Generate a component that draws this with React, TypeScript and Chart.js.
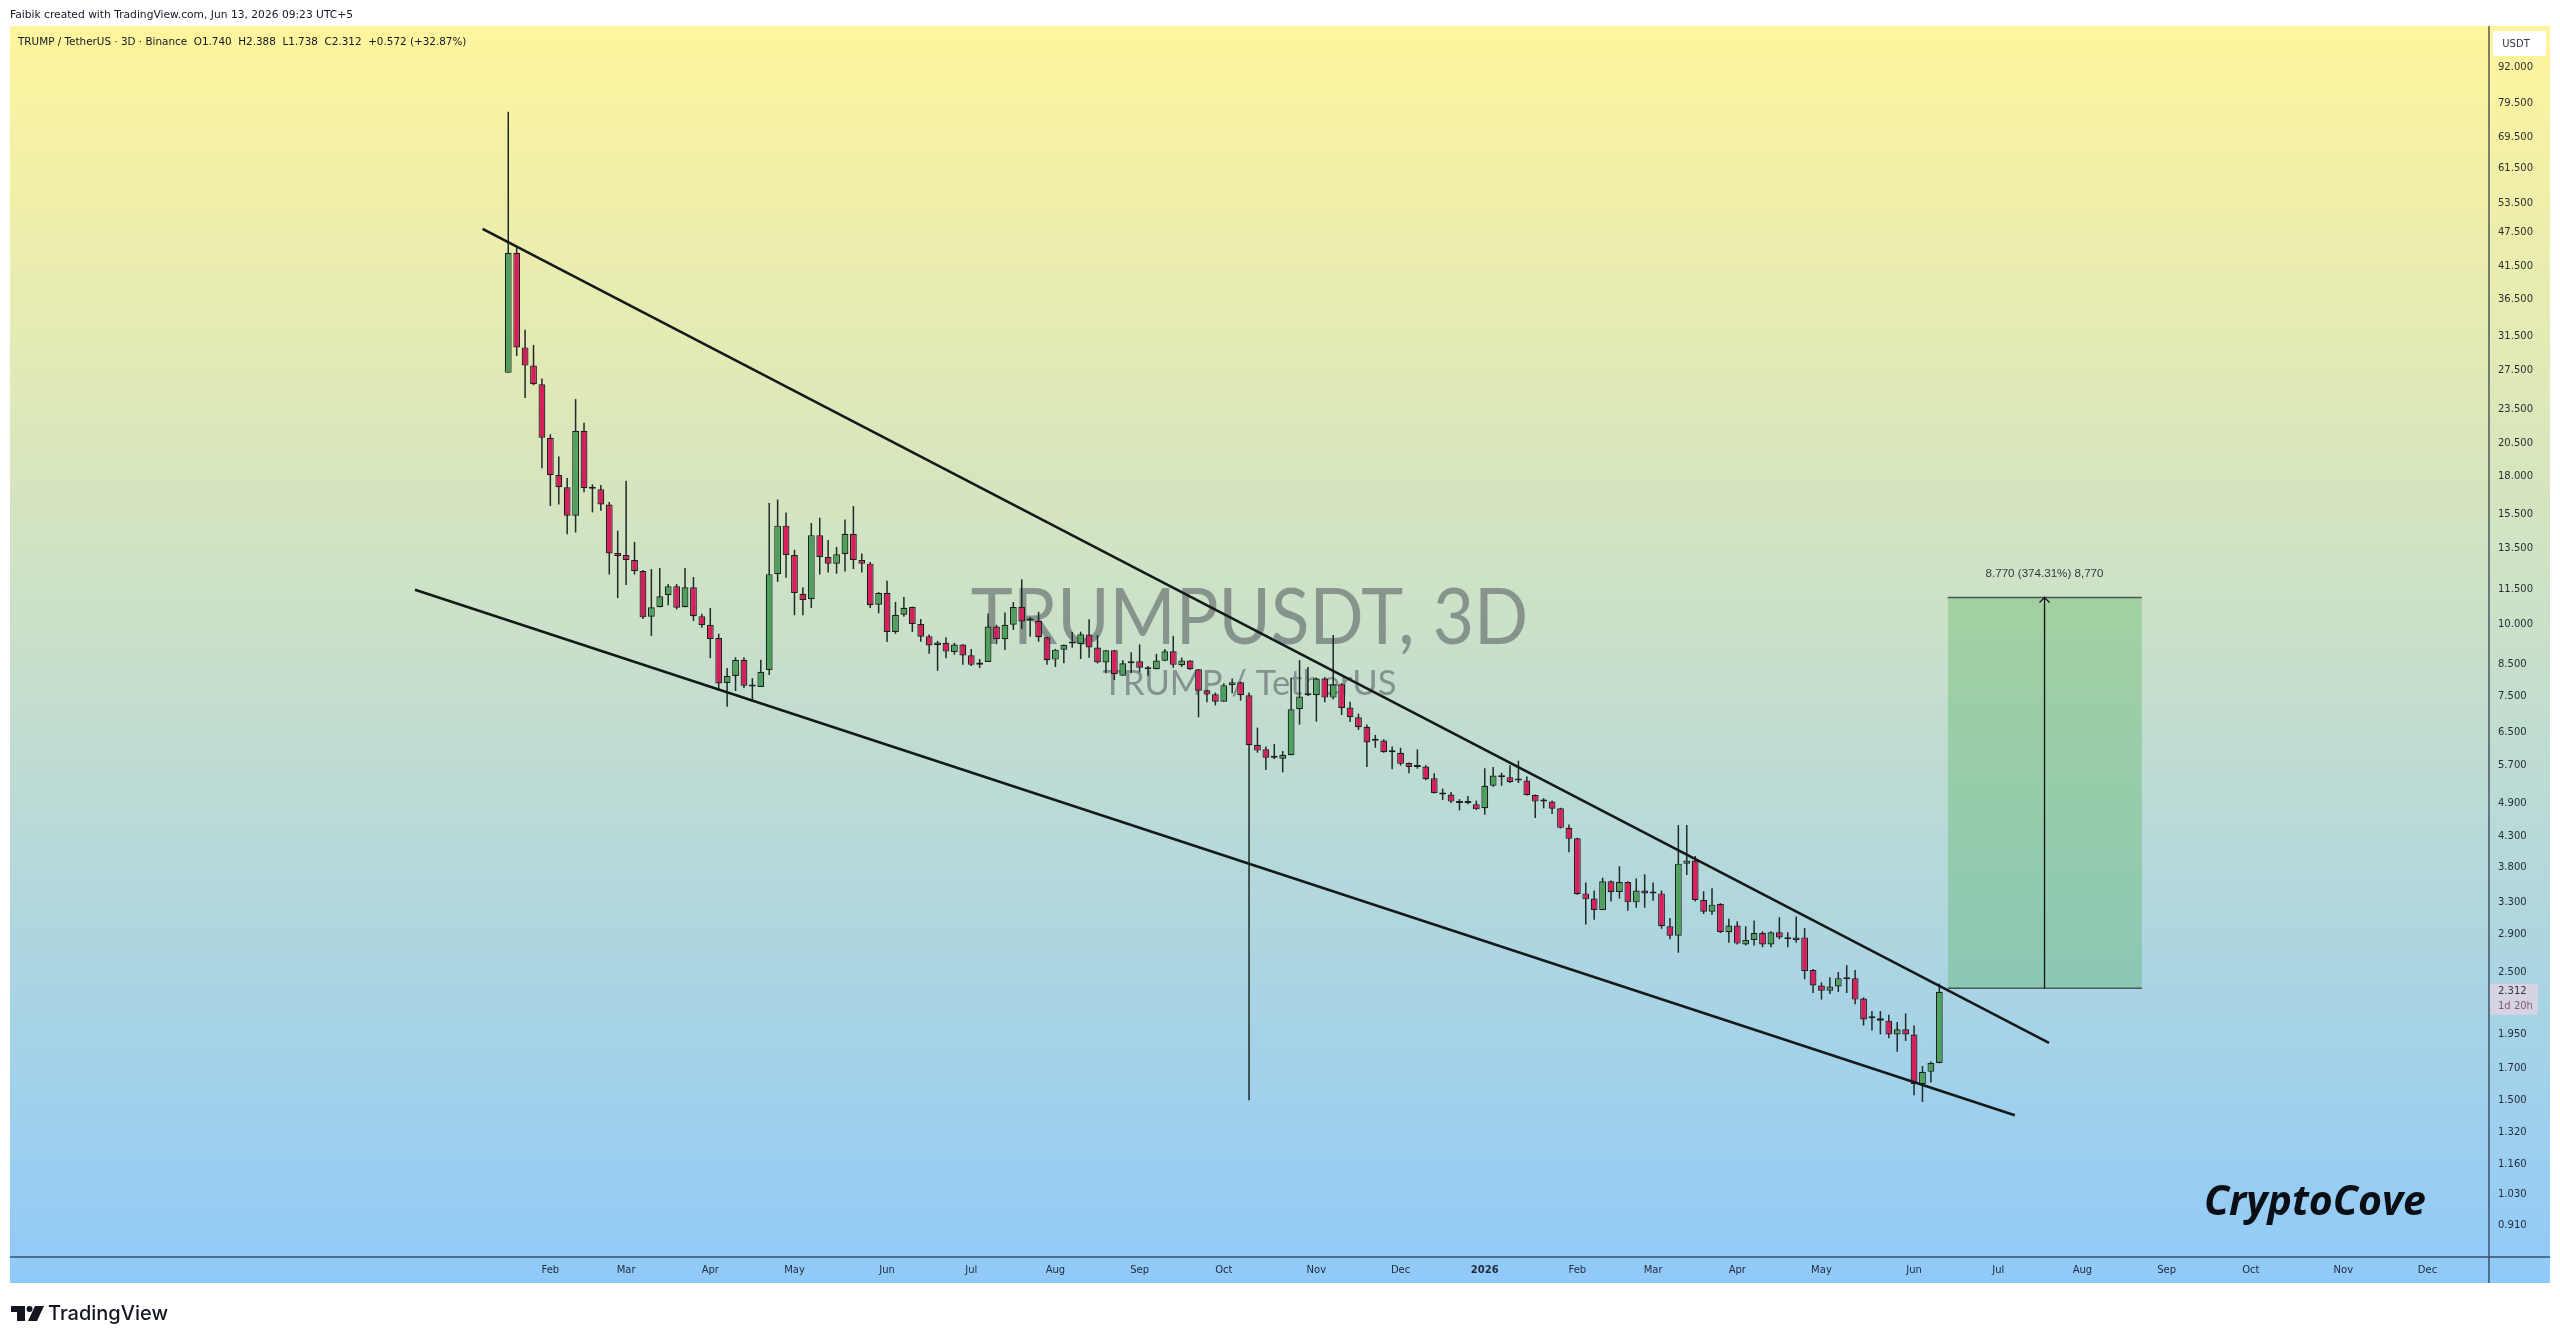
'use client'

/**
 * TRUMPUSDT 3D 캔들 차트 (Chart.js)
 * 캔들은 플로팅 바, 추세선과 목표 박스는 라인 데이터셋으로 그린다
 */

import { useEffect, useRef } from 'react'
import { Chart, registerables } from 'chart.js'

Chart.register(...registerables)

const opens = [
  27.2, 43.9, 30.1, 28.0, 26.0, 21.0, 18.1, 17.25, 15.4, 21.6,
  17.2, 17.1, 16.1, 13.27, 13.16, 12.9, 12.35, 10.3, 10.69, 11.22,
  11.63, 10.69, 11.58, 10.32, 9.96, 9.46, 7.91, 8.13, 8.67, 7.82,
  7.78, 8.33, 12.2, 14.8, 13.16, 11.28, 11.04, 14.25, 13.06, 12.72,
  13.22, 14.33, 12.9, 12.72, 10.8, 11.33, 9.69, 10.38, 10.7, 10.0,
  9.53, 9.19, 9.28, 8.95, 9.22, 8.83, 8.5, 8.6, 9.9, 9.41,
  9.97, 10.7, 10.16, 10.13, 9.49, 8.68, 9.03, 9.25, 9.24, 9.59,
  9.11, 8.58, 9.01, 8.14, 8.55, 8.62, 8.42, 8.35, 8.64, 8.97,
  8.49, 8.65, 8.35, 7.68, 7.56, 7.34, 7.84, 7.93, 7.53, 6.18,
  6.07, 5.87, 5.85, 5.93, 7.12, 7.53, 7.53, 8.05, 7.46, 7.87,
  7.17, 6.9, 6.64, 6.28, 6.29, 6.0, 5.99, 5.75, 5.66, 5.67,
  5.41, 5.11, 5.07, 4.94, 4.9, 4.88, 4.8, 5.25, 5.47, 5.43,
  5.36, 5.36, 5.06, 4.93, 4.93, 4.8, 4.44, 4.26, 3.42, 3.35,
  3.2, 3.59, 3.44, 3.58, 3.3, 3.46, 3.42, 3.42, 3.0, 2.89,
  3.85, 3.9, 3.33, 3.18, 3.28, 2.93, 3.01, 2.79, 2.84, 2.92,
  2.79, 2.93, 2.87, 2.84, 2.87, 2.52, 2.37, 2.32, 2.36, 2.44,
  2.44, 2.25, 2.08, 2.08, 2.06, 1.95, 1.99, 1.95, 1.6, 1.68, 1.74,
]

const highs = [
  77.0, 44.9, 32.3, 30.4, 26.6, 21.3, 19.5, 17.9, 24.5, 22.3,
  17.45, 17.4, 16.26, 14.5, 17.7, 13.87, 12.4, 12.45, 12.5, 11.73,
  11.73, 12.5, 12.06, 10.42, 10.66, 9.62, 8.39, 8.76, 8.76, 8.06,
  8.67, 16.2, 16.42, 15.6, 13.44, 11.58, 14.96, 15.28, 13.98, 13.6,
  15.17, 16.0, 13.25, 12.8, 11.36, 11.88, 10.92, 11.14, 10.72, 10.2,
  9.59, 9.35, 9.49, 9.28, 9.23, 9.05, 8.7, 10.43, 9.97, 10.47,
  10.92, 11.95, 10.28, 10.5, 9.51, 9.06, 9.22, 9.69, 9.7, 10.19,
  9.57, 9.02, 9.02, 8.66, 8.94, 9.22, 8.46, 8.88, 9.05, 9.54,
  8.75, 8.66, 8.36, 7.69, 7.61, 7.9, 8.05, 7.95, 7.61, 6.62,
  6.14, 6.2, 6.03, 8.07, 8.66, 8.43, 8.07, 8.1, 9.57, 7.9,
  7.34, 7.0, 6.7, 6.43, 6.32, 6.14, 6.11, 5.76, 6.07, 5.7,
  5.52, 5.19, 5.12, 4.98, 5.04, 4.95, 5.63, 5.66, 5.53, 5.7,
  5.8, 5.45, 5.07, 5.0, 4.95, 4.81, 4.5, 4.27, 3.57, 3.46,
  3.64, 3.6, 3.81, 3.59, 3.63, 3.69, 3.57, 3.46, 3.1, 4.49,
  4.49, 3.97, 3.45, 3.49, 3.29, 3.09, 3.06, 3.0, 3.07, 2.94,
  2.94, 3.11, 2.93, 3.12, 2.98, 2.53, 2.4, 2.45, 2.5, 2.57,
  2.52, 2.26, 2.14, 2.14, 2.11, 2.05, 2.12, 2.02, 1.72, 1.75, 2.388,
]

const lows = [
  27.2, 29.1, 24.6, 25.9, 18.6, 16.0, 16.1, 14.3, 14.4, 16.9,
  15.6, 15.7, 12.18, 11.09, 11.68, 12.18, 10.2, 9.54, 10.69, 10.78,
  10.6, 10.69, 10.12, 9.85, 8.73, 7.72, 7.19, 7.66, 7.75, 7.33,
  7.78, 8.16, 11.83, 12.03, 10.36, 10.36, 10.66, 12.18, 12.28, 12.22,
  12.33, 12.45, 12.28, 10.66, 10.44, 9.31, 9.62, 10.3, 9.69, 9.32,
  8.88, 8.3, 8.73, 8.85, 8.5, 8.46, 8.39, 8.6, 9.23, 9.02,
  9.77, 9.8, 9.51, 9.32, 8.5, 8.43, 8.55, 9.1, 8.7, 8.74,
  8.55, 8.22, 8.0, 8.14, 8.22, 8.25, 8.14, 8.35, 8.62, 8.4,
  8.43, 8.33, 6.9, 7.32, 7.23, 7.34, 7.59, 7.37, 1.5, 5.99,
  5.59, 5.84, 5.54, 5.93, 6.7, 7.51, 6.78, 7.32, 7.41, 6.96,
  6.77, 6.56, 5.66, 6.11, 5.99, 5.61, 5.69, 5.52, 5.62, 5.37,
  5.09, 4.96, 4.9, 4.76, 4.88, 4.77, 4.68, 5.23, 5.25, 5.31,
  5.31, 5.05, 4.62, 4.8, 4.69, 4.43, 4.03, 3.4, 3.02, 3.08,
  3.2, 3.31, 3.35, 3.19, 3.23, 3.23, 3.32, 2.97, 2.85, 2.7,
  3.68, 3.31, 3.15, 3.14, 2.92, 2.81, 2.79, 2.78, 2.78, 2.76,
  2.76, 2.85, 2.76, 2.81, 2.43, 2.3, 2.24, 2.29, 2.31, 2.3,
  2.2, 2.02, 1.98, 1.95, 1.92, 1.82, 1.9, 1.53, 1.49, 1.61, 1.738,
]

const closes = [
  43.9, 30.1, 28.0, 26.0, 21.0, 18.1, 17.25, 15.4, 21.6, 17.2,
  17.15, 16.1, 13.25, 13.1, 12.9, 12.35, 10.27, 10.69, 11.17, 11.63,
  10.67, 11.58, 10.32, 9.96, 9.42, 7.89, 8.13, 8.67, 7.82, 7.8,
  8.27, 12.2, 14.8, 13.16, 11.32, 11.0, 14.25, 13.06, 12.72, 13.2,
  14.33, 12.9, 12.72, 10.78, 11.32, 9.69, 10.38, 10.67, 10.0, 9.51,
  9.18, 9.29, 8.96, 9.22, 8.82, 8.5, 8.58, 9.9, 9.41, 9.97,
  10.7, 10.1, 10.14, 9.49, 8.66, 9.03, 9.2, 9.27, 9.6, 9.11,
  8.58, 9.01, 8.19, 8.55, 8.62, 8.4, 8.35, 8.65, 8.97, 8.5,
  8.65, 8.35, 7.67, 7.55, 7.34, 7.84, 7.93, 7.53, 6.17, 6.04,
  5.87, 5.88, 5.94, 7.12, 7.49, 7.55, 8.05, 7.46, 7.87, 7.16,
  6.9, 6.63, 6.24, 6.29, 6.0, 6.01, 5.73, 5.66, 5.67, 5.39,
  5.1, 5.07, 4.93, 4.9, 4.91, 4.78, 5.25, 5.47, 5.43, 5.33,
  5.37, 5.06, 4.93, 4.94, 4.79, 4.44, 4.25, 3.41, 3.34, 3.2,
  3.59, 3.44, 3.58, 3.3, 3.46, 3.42, 3.43, 3.0, 2.89, 3.85,
  3.9, 3.33, 3.18, 3.27, 2.93, 3.01, 2.8, 2.84, 2.92, 2.79,
  2.93, 2.87, 2.85, 2.87, 2.51, 2.37, 2.32, 2.36, 2.44, 2.43,
  2.24, 2.07, 2.09, 2.06, 1.95, 1.99, 1.95, 1.6, 1.68, 1.74, 2.312,
]

// 월 라벨은 해당 월 첫 봉의 인덱스
const monthIndexes = [5, 14, 24, 34, 45, 55, 65, 75, 85, 96, 106, 116, 127, 136, 146, 156, 167, 177, 187, 197, 207, 218, 228]
const monthLabels = ['Feb', 'Mar', 'Apr', 'May', 'Jun', 'Jul', 'Aug', 'Sep', 'Oct', 'Nov', 'Dec', '2026', 'Feb', 'Mar', 'Apr', 'May', 'Jun', 'Jul', 'Aug', 'Sep', 'Oct', 'Nov', 'Dec']

const priceTicks = [
  92, 79.5, 69.5, 61.5, 53.5, 47.5, 41.5, 36.5, 31.5, 27.5, 23.5, 20.5, 18, 15.5, 13.5, 11.5, 10, 8.5,
  7.5, 6.5, 5.7, 4.9, 4.3, 3.8, 3.3, 2.9, 2.5, 1.95, 1.7, 1.5, 1.32, 1.16, 1.03, 0.91,
]

const upperLineX = [-3.05, 183.03]
const upperLineY = [48.25, 1.885]
const lowerLineX = [-11.08, 178.97]
const lowerLineY = [11.46, 1.413]

const boxX = [171, 194.07]
const boxTop = 11.113
const boxBottom = 2.343
const arrowX = [182.5, 182.5, 181.9, 182.5, 183.1]
const arrowY = [2.343, 11.113, 10.9, 11.113, 10.9]

const UP = '#4ca25a'
const DOWN = '#d81e5b'
const DARK = '#131722'
const TEXT = 'rgba(19, 23, 34, 0.9)'
const FONT = '"DejaVu Sans"'

const pairs = (xs: number[], ys: number[]) => xs.map((x, i) => ({ x, y: ys[i] }))

const panelPlugin = {
  id: 'panel',
  beforeDraw(chart: any) {
    const { ctx, chartArea, width, height } = chart
    const top = chartArea.top
    const bottom = height - 60
    const grad = ctx.createLinearGradient(0, top, 0, bottom)
    grad.addColorStop(0, '#fff59d')
    grad.addColorStop(1, '#90caf9')
    ctx.save()
    ctx.fillStyle = grad
    ctx.fillRect(chartArea.left, top, width - 10 - chartArea.left, bottom - top)
    ctx.restore()
  },
  beforeDatasetsDraw(chart: any) {
    const { ctx, chartArea } = chart
    const cx = (chartArea.left + chartArea.right) / 2
    const cy = (chartArea.top + chartArea.bottom) / 2
    ctx.save()
    ctx.fillStyle = 'rgba(67, 70, 81, 0.5)'
    ctx.textAlign = 'center'
    ctx.textBaseline = 'alphabetic'
    ctx.font = '34.5px Lato'
    ctx.fillText('TRUMP / TetherUS', cx, cy + 53)
    // 원본 글꼴이 더 좁아서 가로만 줄인다
    ctx.translate(cx, cy + 2)
    ctx.scale(0.913, 1)
    ctx.font = '78px Lato'
    ctx.fillText('TRUMPUSDT, 3D', 0, 0)
    ctx.restore()
  },
  afterDraw(chart: any) {
    const { ctx, chartArea, width, height, scales } = chart
    const panelBottom = height - 60
    const panelRight = width - 10
    ctx.save()

    // 축 구분선
    ctx.strokeStyle = 'rgba(30, 40, 60, 0.75)'
    ctx.lineWidth = 1.5
    ctx.beginPath()
    ctx.moveTo(chartArea.left, chartArea.bottom)
    ctx.lineTo(panelRight, chartArea.bottom)
    ctx.moveTo(chartArea.right, chartArea.top)
    ctx.lineTo(chartArea.right, panelBottom)
    ctx.stroke()

    ctx.textBaseline = 'middle'
    ctx.textAlign = 'left'

    // 상단 텍스트
    ctx.fillStyle = DARK
    ctx.font = `10.7px ${FONT}`
    ctx.fillText('Faibik created with TradingView.com, Jun 13, 2026 09:23 UTC+5', 10, 15)
    ctx.font = `10.4px ${FONT}`
    ctx.fillText('TRUMP / TetherUS · 3D · Binance  O1.740  H2.388  L1.738  C2.312  +0.572 (+32.87%)', 18, 42)

    // USDT 배지
    ctx.font = `10px ${FONT}`
    ctx.fillStyle = '#ffffff'
    ctx.beginPath()
    ctx.roundRect(chartArea.right + 4, 31, 53, 25, 3)
    ctx.fill()
    ctx.fillStyle = '#333845'
    ctx.textAlign = 'center'
    ctx.fillText('USDT', chartArea.right + 27, 44)

    // 현재가 라벨
    const lastY = scales.y.getPixelForValue(closes[closes.length - 1])
    ctx.fillStyle = '#d6d4e2'
    ctx.fillRect(chartArea.right + 1, lastY - 8, 48, 31)
    ctx.textAlign = 'left'
    ctx.fillStyle = '#3a3440'
    ctx.fillText('2.312', chartArea.right + 9, lastY)
    ctx.fillStyle = '#7e5a6e'
    ctx.fillText('1d 20h', chartArea.right + 9, lastY + 15)

    // 목표 박스 라벨
    ctx.fillStyle = '#333845'
    ctx.textAlign = 'center'
    ctx.font = '11.6px "Liberation Sans"'
    ctx.fillText(
      '8.770 (374.31%) 8,770',
      scales.x.getPixelForValue(arrowX[1]),
      scales.y.getPixelForValue(boxTop) - 24,
    )

    // 워터마크
    ctx.fillStyle = '#0b0e14'
    ctx.textAlign = 'left'
    ctx.textBaseline = 'alphabetic'
    ctx.font = 'italic bold 41px "Open Sans"'
    ctx.fillText('CryptoCove', 2204, 1215)

    // TradingView 로고
    ctx.fillStyle = '#131722'
    ctx.fillRect(11, 1306, 14, 6)
    ctx.fillRect(17, 1312, 8, 9)
    ctx.beginPath()
    ctx.arc(29.5, 1309, 3, 0, Math.PI * 2)
    ctx.fill()
    ctx.beginPath()
    ctx.moveTo(35, 1306)
    ctx.lineTo(44, 1306)
    ctx.lineTo(37, 1321)
    ctx.lineTo(28, 1321)
    ctx.closePath()
    ctx.fill()
    ctx.font = '500 20px Inter'
    ctx.fillText('TradingView', 48, 1320)

    ctx.restore()
  },
}

export default function App() {
  const canvasRef = useRef<HTMLCanvasElement>(null)
  const chartRef = useRef<Chart | null>(null)

  useEffect(() => {
    document.body.style.margin = '0'
    if (!canvasRef.current) return
    const ctx = canvasRef.current.getContext('2d')
    if (!ctx) return

    const candleColors = closes.map((c, i) => (c >= opens[i] ? UP : DOWN))

    const config: any = {
      type: 'bar',
      data: {
        datasets: [
          {
            type: 'line',
            data: pairs(boxX, [boxTop, boxTop]),
            borderColor: 'rgba(55, 70, 65, 0.85)',
            borderWidth: 1.5,
            backgroundColor: 'rgba(76, 175, 80, 0.32)',
            fill: { value: boxBottom },
            pointRadius: 0,
            order: 6,
          },
          {
            type: 'line',
            data: pairs(boxX, [boxBottom, boxBottom]),
            borderColor: 'rgba(55, 70, 65, 0.85)',
            borderWidth: 1.5,
            pointRadius: 0,
            order: 5,
          },
          {
            data: opens.map((_, i) => ({ x: i, y: [lows[i], highs[i]] })),
            grouped: false,
            categoryPercentage: 1,
            barPercentage: 1.5 / 8.418,
            backgroundColor: '#1d2a26',
            borderWidth: 0,
            order: 4,
          },
          {
            data: opens.map((o, i) => ({ x: i, y: [o, closes[i]] })),
            grouped: false,
            categoryPercentage: 1,
            barPercentage: 6.8 / 8.418,
            minBarLength: 2,
            backgroundColor: candleColors,
            borderColor: '#1a1f1f',
            borderWidth: 1.2,
            borderSkipped: false,
            order: 3,
          },
          {
            type: 'line',
            data: pairs(arrowX, arrowY),
            borderColor: '#111111',
            borderWidth: 1.3,
            pointRadius: 0,
            order: 2,
          },
          {
            type: 'line',
            data: pairs(upperLineX, upperLineY),
            borderColor: '#14191a',
            borderWidth: 2.6,
            pointRadius: 0,
            order: 1,
          },
          {
            type: 'line',
            data: pairs(lowerLineX, lowerLineY),
            borderColor: '#14191a',
            borderWidth: 2.6,
            pointRadius: 0,
            order: 1,
          },
        ],
      },
      options: {
        responsive: false,
        devicePixelRatio: 1,
        animation: false,
        events: [],
        layout: { padding: { left: 10, top: 26, right: 10, bottom: 60 } },
        plugins: {
          legend: { display: false },
          tooltip: { enabled: false },
        },
        scales: {
          x: {
            type: 'linear',
            min: -59.19,
            max: 235.3,
            offset: false,
            grid: { display: false, drawTicks: false },
            border: { display: false },
            afterBuildTicks: (scale: any) => {
              scale.ticks = monthIndexes.map(value => ({ value }))
            },
            afterFit: (scale: any) => {
              scale.height = 26
            },
            ticks: {
              autoSkip: false,
              maxRotation: 0,
              padding: 7,
              color: TEXT,
              font: (c: any) => ({
                family: FONT,
                size: 10,
                weight: c.tick && c.tick.value === 116 ? 'bold' : 'normal',
              }),
              callback: (v: number) => monthLabels[monthIndexes.indexOf(v)],
            },
          },
          y: {
            type: 'logarithmic',
            position: 'right',
            min: 0.8035,
            max: 108.3,
            grid: { display: false, drawTicks: false },
            border: { display: false },
            afterBuildTicks: (scale: any) => {
              scale.ticks = priceTicks.map(value => ({ value }))
            },
            afterFit: (scale: any) => {
              scale.width = 61
            },
            ticks: {
              autoSkip: false,
              padding: 9,
              color: TEXT,
              font: { family: FONT, size: 10 },
              callback: (v: number) => v.toFixed(3),
            },
          },
        },
      },
      plugins: [panelPlugin],
    }

    chartRef.current = new Chart(ctx, config)

    return () => {
      chartRef.current?.destroy()
    }
  }, [])

  return <canvas ref={canvasRef} width={2560} height={1343} style={{ display: 'block' }} />
}
